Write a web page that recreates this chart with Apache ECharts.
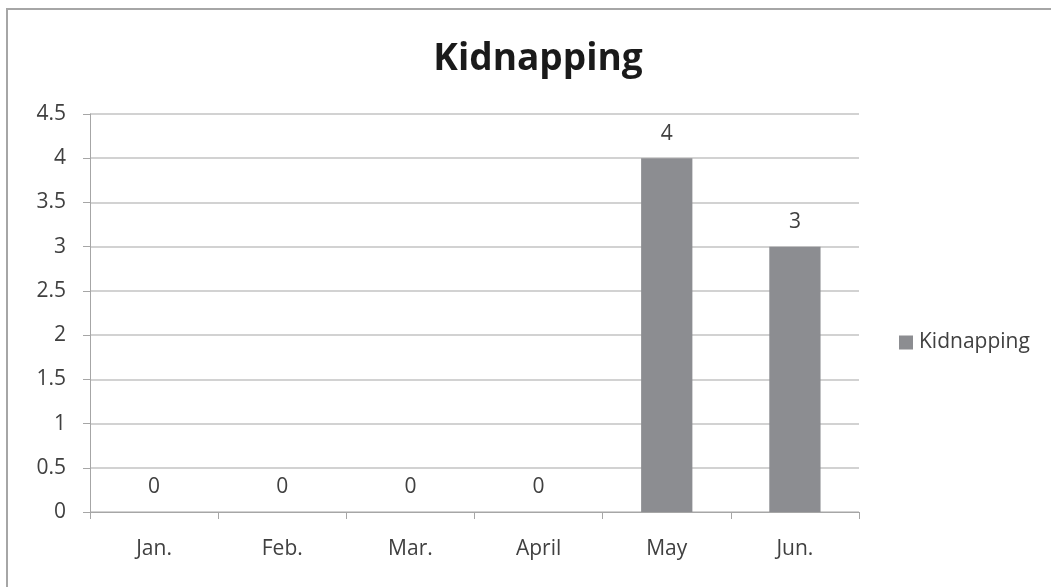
<!DOCTYPE html>
<html>
<head>
<meta charset="utf-8">
<script src="https://cdn.jsdelivr.net/npm/echarts@6/dist/echarts.min.js"></script>
<style>
  html, body { margin: 0; padding: 0; background: #ffffff; }
  #chart { width: 1051px; height: 587px; }
</style>
</head>
<body>
<div id="chart"></div>
<script>
// Monthly kidnapping counts
const months = ['Jan.', 'Feb.', 'Mar.', 'April', 'May', 'Jun.'];
const kidnappings = [0, 0, 0, 0, 4, 3];
const seriesName = 'Kidnapping';

const textColor = '#404040';
const gridColor = '#c3c3c3';
const barColor = '#8c8d91';
const fontFamily = '"Open Sans", "Noto Sans", sans-serif';

const chart = echarts.init(document.getElementById('chart'));
chart.setOption({
  backgroundColor: '#ffffff',
  animation: false,
  graphic: [{
    type: 'rect',
    shape: { x: 7, y: 9, width: 1100, height: 700 },
    style: { fill: 'none', stroke: '#a6a6a6', lineWidth: 2 },
    silent: true
  }],
  title: {
    text: 'Kidnapping',
    left: 533,
    top: 36,
    textAlign: 'center',
    textStyle: { fontFamily, fontSize: 37, fontWeight: 'bold', color: '#1a1a1a' }
  },
  legend: {
    orient: 'vertical',
    left: 894,
    top: 327,
    itemWidth: 14,
    itemHeight: 14,
    itemGap: 6,
    icon: 'rect',
    textStyle: { fontFamily, fontSize: 21, color: textColor, padding: [0, 0, 0, 1] },
    data: [seriesName]
  },
  grid: { left: 90, right: 192, top: 114, bottom: 75, containLabel: false },
  xAxis: {
    type: 'category',
    data: months,
    axisLine: { lineStyle: { color: '#a6a6a6', width: 1 } },
    axisTick: { show: true, length: 7, lineStyle: { color: '#a6a6a6' } },
    axisLabel: { margin: 27, fontFamily, fontSize: 21, color: textColor }
  },
  yAxis: {
    type: 'value',
    min: 0,
    max: 4.5,
    interval: 0.5,
    axisLine: { show: true, lineStyle: { color: '#a6a6a6', width: 1 } },
    axisTick: { show: true, length: 7, lineStyle: { color: '#a6a6a6' } },
    splitLine: { show: true, lineStyle: { color: gridColor, width: 1.5 } },
    axisLabel: { margin: 24, fontFamily, fontSize: 21, color: textColor }
  },
  series: [{
    name: seriesName,
    type: 'bar',
    data: kidnappings,
    barWidth: '40%',
    itemStyle: { color: barColor },
    label: {
      show: true,
      position: 'top',
      distance: 14,
      fontFamily,
      fontSize: 21,
      color: textColor
    }
  }]
});
</script>
</body>
</html>
